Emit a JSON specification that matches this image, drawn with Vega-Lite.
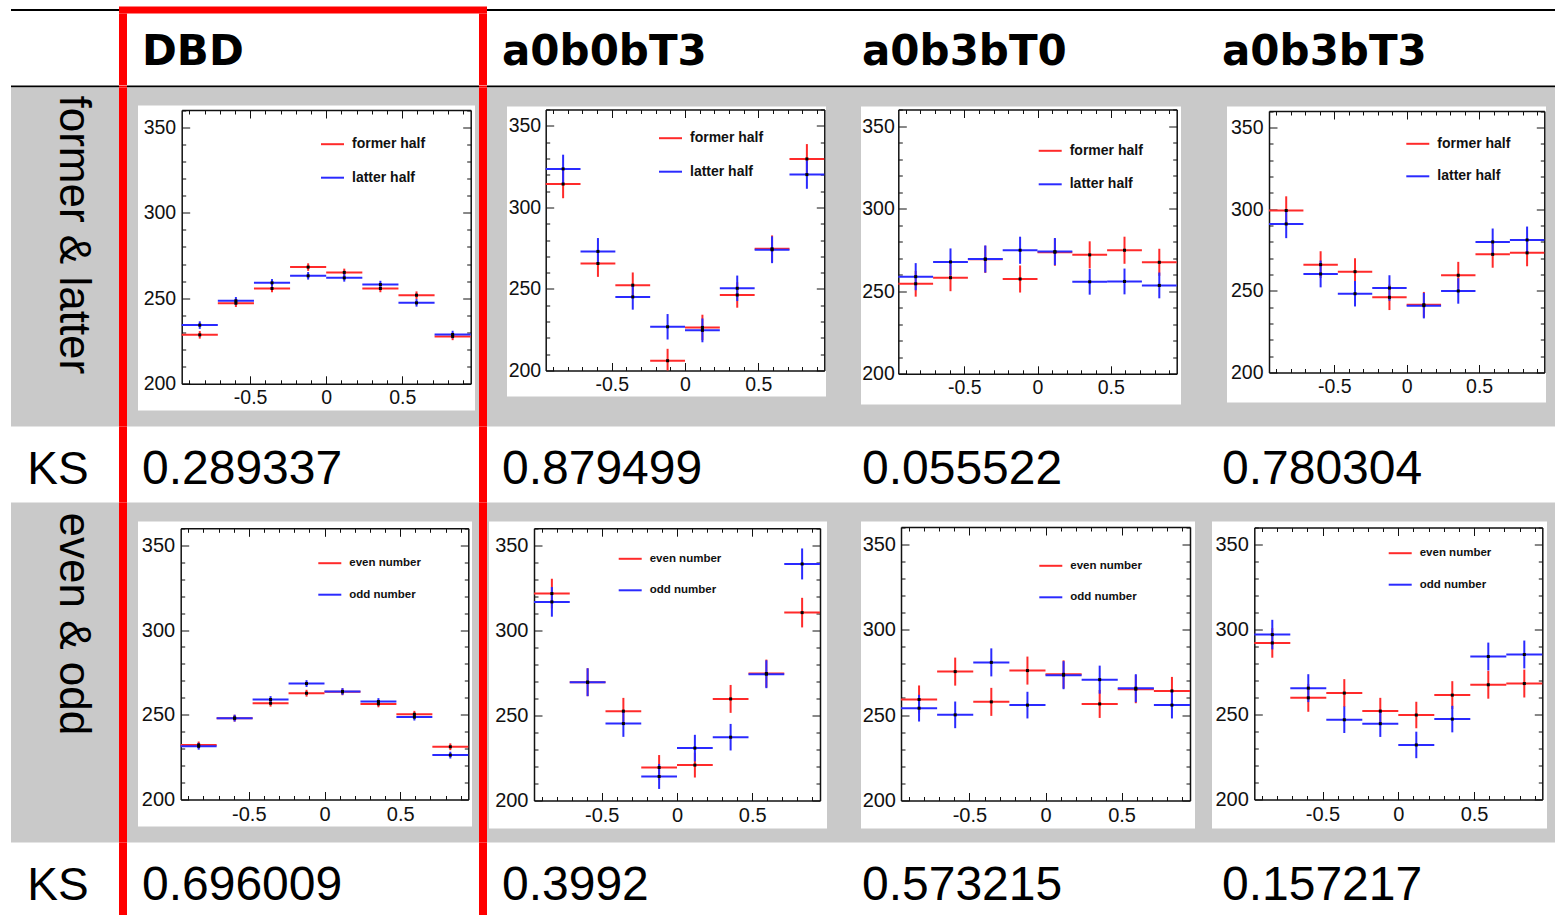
{
"$schema":"https://vega.github.io/schema/vega-lite/v6.json",
"background":"white",
"padding":{"left":11,"top":6.5,"right":0,"bottom":0},
"config":{
 "view":{"stroke":null},
 "concat":{"spacing":0},
 "axis":{"grid":false,"minExtent":0,"labelFont":"Liberation Sans","labelColor":"#111","domainColor":"#111","tickColor":"#111","domainWidth":1.5,"tickWidth":1,"labelFlush":false,"labelOverlap":false,"zindex":1},
 "legend":{"symbolType":"stroke","symbolSize":529,"symbolStrokeWidth":2,"symbolOpacity":1,"labelFont":"Liberation Sans","labelFontWeight":"bold","labelColor":"#111","labelOffset":7,"rowPadding":13.5,"padding":0}
},
"datasets":{
 "bins":[{"i":1,"x0":-0.95,"x1":-0.7125,"xc":-0.83125},{"i":2,"x0":-0.7125,"x1":-0.475,"xc":-0.59375},{"i":3,"x0":-0.475,"x1":-0.2375,"xc":-0.35625},{"i":4,"x0":-0.2375,"x1":0,"xc":-0.11875},{"i":5,"x0":0,"x1":0.2375,"xc":0.11875},{"i":6,"x0":0.2375,"x1":0.475,"xc":0.35625},{"i":7,"x0":0.475,"x1":0.7125,"xc":0.59375},{"i":8,"x0":0.7125,"x1":0.95,"xc":0.83125}],
 "p1":[{"s":"former half","i":1,"v":228.6,"lo":226.4,"hi":230.8},{"s":"former half","i":2,"v":247.1,"lo":244.9,"hi":249.3},{"s":"former half","i":3,"v":255.7,"lo":253.5,"hi":257.9},{"s":"former half","i":4,"v":268.2,"lo":266.0,"hi":270.4},{"s":"former half","i":5,"v":265.1,"lo":262.9,"hi":267.3},{"s":"former half","i":6,"v":255.7,"lo":253.5,"hi":257.9},{"s":"former half","i":7,"v":251.8,"lo":249.6,"hi":254.0},{"s":"former half","i":8,"v":227.7,"lo":225.5,"hi":229.9},
  {"s":"latter half","i":1,"v":234.3,"lo":232.1,"hi":236.5},{"s":"latter half","i":2,"v":248.5,"lo":246.3,"hi":250.7},{"s":"latter half","i":3,"v":259.0,"lo":256.8,"hi":261.2},{"s":"latter half","i":4,"v":263.1,"lo":260.9,"hi":265.3},{"s":"latter half","i":5,"v":261.9,"lo":259.7,"hi":264.1},{"s":"latter half","i":6,"v":258.0,"lo":255.8,"hi":260.2},{"s":"latter half","i":7,"v":247.3,"lo":245.1,"hi":249.5},{"s":"latter half","i":8,"v":228.8,"lo":226.6,"hi":231.0}],
 "p2":[{"s":"former half","i":1,"v":314.3,"lo":305.6,"hi":323.0},{"s":"former half","i":2,"v":265.6,"lo":257.4,"hi":273.8},{"s":"former half","i":3,"v":252.3,"lo":244.5,"hi":260.1},{"s":"former half","i":4,"v":206.0,"lo":200.0,"hi":213.3},{"s":"former half","i":5,"v":226.4,"lo":218.6,"hi":234.2},{"s":"former half","i":6,"v":246.3,"lo":238.5,"hi":254.1},{"s":"former half","i":7,"v":274.6,"lo":266.4,"hi":282.8},{"s":"former half","i":8,"v":329.7,"lo":320.6,"hi":338.8},
  {"s":"latter half","i":1,"v":323.6,"lo":314.9,"hi":332.3},{"s":"latter half","i":2,"v":273.0,"lo":264.8,"hi":281.2},{"s":"latter half","i":3,"v":245.1,"lo":237.3,"hi":252.9},{"s":"latter half","i":4,"v":226.8,"lo":219.0,"hi":234.6},{"s":"latter half","i":5,"v":224.6,"lo":217.3,"hi":231.9},{"s":"latter half","i":6,"v":250.4,"lo":242.6,"hi":258.2},{"s":"latter half","i":7,"v":274.0,"lo":265.8,"hi":282.2},{"s":"latter half","i":8,"v":320.1,"lo":311.4,"hi":328.8}],
 "p3":[{"s":"former half","i":1,"v":254.5,"lo":246.7,"hi":262.3},{"s":"former half","i":2,"v":258.2,"lo":250.0,"hi":266.4},{"s":"former half","i":3,"v":269.3,"lo":261.1,"hi":277.5},{"s":"former half","i":4,"v":257.4,"lo":249.2,"hi":265.6},{"s":"former half","i":5,"v":273.6,"lo":265.4,"hi":281.8},{"s":"former half","i":6,"v":272.0,"lo":263.8,"hi":280.2},{"s":"former half","i":7,"v":274.8,"lo":266.6,"hi":283.0},{"s":"former half","i":8,"v":267.5,"lo":259.3,"hi":275.7},
  {"s":"latter half","i":1,"v":258.8,"lo":250.6,"hi":267.0},{"s":"latter half","i":2,"v":267.7,"lo":259.5,"hi":275.9},{"s":"latter half","i":3,"v":269.5,"lo":261.3,"hi":277.7},{"s":"latter half","i":4,"v":274.8,"lo":266.6,"hi":283.0},{"s":"latter half","i":5,"v":274.0,"lo":265.8,"hi":282.2},{"s":"latter half","i":6,"v":255.7,"lo":247.9,"hi":263.5},{"s":"latter half","i":7,"v":255.9,"lo":248.1,"hi":263.7},{"s":"latter half","i":8,"v":253.5,"lo":245.7,"hi":261.3}],
 "p4":[{"s":"former half","i":1,"v":299.1,"lo":290.4,"hi":307.8},{"s":"former half","i":2,"v":266.0,"lo":257.8,"hi":274.2},{"s":"former half","i":3,"v":261.7,"lo":253.5,"hi":269.9},{"s":"former half","i":4,"v":246.0,"lo":238.2,"hi":253.8},{"s":"former half","i":5,"v":241.5,"lo":233.7,"hi":249.3},{"s":"former half","i":6,"v":259.5,"lo":251.3,"hi":267.7},{"s":"former half","i":7,"v":272.3,"lo":264.1,"hi":280.5},{"s":"former half","i":8,"v":273.2,"lo":265.0,"hi":281.4},
  {"s":"latter half","i":1,"v":290.9,"lo":282.2,"hi":299.6},{"s":"latter half","i":2,"v":260.3,"lo":252.1,"hi":268.5},{"s":"latter half","i":3,"v":248.2,"lo":240.4,"hi":256.0},{"s":"latter half","i":4,"v":251.7,"lo":243.9,"hi":259.5},{"s":"latter half","i":5,"v":240.9,"lo":233.1,"hi":248.7},{"s":"latter half","i":6,"v":249.9,"lo":242.1,"hi":257.7},{"s":"latter half","i":7,"v":279.9,"lo":271.7,"hi":288.1},{"s":"latter half","i":8,"v":281.1,"lo":272.9,"hi":289.3}],
 "p5":[{"s":"even number","i":1,"v":232.2,"lo":230.2,"hi":234.2},{"s":"even number","i":2,"v":248.0,"lo":246.0,"hi":250.0},{"s":"even number","i":3,"v":256.8,"lo":254.8,"hi":258.8},{"s":"even number","i":4,"v":262.7,"lo":260.7,"hi":264.7},{"s":"even number","i":5,"v":263.5,"lo":261.5,"hi":265.5},{"s":"even number","i":6,"v":256.4,"lo":254.4,"hi":258.4},{"s":"even number","i":7,"v":250.3,"lo":248.3,"hi":252.3},{"s":"even number","i":8,"v":231.1,"lo":229.1,"hi":233.1},
  {"s":"odd number","i":1,"v":231.4,"lo":229.4,"hi":233.4},{"s":"odd number","i":2,"v":248.0,"lo":246.0,"hi":250.0},{"s":"odd number","i":3,"v":259.0,"lo":257.0,"hi":261.0},{"s":"odd number","i":4,"v":268.4,"lo":266.4,"hi":270.4},{"s":"odd number","i":5,"v":263.7,"lo":261.7,"hi":265.7},{"s":"odd number","i":6,"v":257.8,"lo":255.8,"hi":259.8},{"s":"odd number","i":7,"v":248.6,"lo":246.6,"hi":250.6},{"s":"odd number","i":8,"v":226.2,"lo":224.2,"hi":228.2}],
 "p6":[{"s":"even number","i":1,"v":321.6,"lo":312.9,"hi":330.3},{"s":"even number","i":2,"v":269.5,"lo":261.3,"hi":277.7},{"s":"even number","i":3,"v":252.5,"lo":244.7,"hi":260.3},{"s":"even number","i":4,"v":219.4,"lo":212.1,"hi":226.7},{"s":"even number","i":5,"v":220.8,"lo":213.5,"hi":228.1},{"s":"even number","i":6,"v":259.7,"lo":251.5,"hi":267.9},{"s":"even number","i":7,"v":274.6,"lo":266.4,"hi":282.8},{"s":"even number","i":8,"v":310.4,"lo":301.7,"hi":319.1},
  {"s":"odd number","i":1,"v":316.7,"lo":308.0,"hi":325.4},{"s":"odd number","i":2,"v":269.5,"lo":261.3,"hi":277.7},{"s":"odd number","i":3,"v":245.2,"lo":237.4,"hi":253.0},{"s":"odd number","i":4,"v":214.1,"lo":206.8,"hi":221.4},{"s":"odd number","i":5,"v":230.8,"lo":223.0,"hi":238.6},{"s":"odd number","i":6,"v":237.2,"lo":229.4,"hi":245.0},{"s":"odd number","i":7,"v":274.2,"lo":266.0,"hi":282.4},{"s":"odd number","i":8,"v":339.0,"lo":329.9,"hi":348.1}],
 "p7":[{"s":"even number","i":1,"v":259.1,"lo":250.9,"hi":267.3},{"s":"even number","i":2,"v":275.4,"lo":267.2,"hi":283.6},{"s":"even number","i":3,"v":257.7,"lo":249.5,"hi":265.9},{"s":"even number","i":4,"v":276.0,"lo":267.8,"hi":284.2},{"s":"even number","i":5,"v":273.8,"lo":265.6,"hi":282.0},{"s":"even number","i":6,"v":256.5,"lo":248.3,"hi":264.7},{"s":"even number","i":7,"v":265.1,"lo":256.9,"hi":273.3},{"s":"even number","i":8,"v":264.1,"lo":255.9,"hi":272.3},
  {"s":"odd number","i":1,"v":254.0,"lo":246.2,"hi":261.8},{"s":"odd number","i":2,"v":250.1,"lo":242.3,"hi":257.9},{"s":"odd number","i":3,"v":280.8,"lo":272.6,"hi":289.0},{"s":"odd number","i":4,"v":255.8,"lo":248.0,"hi":263.6},{"s":"odd number","i":5,"v":273.3,"lo":265.1,"hi":281.5},{"s":"odd number","i":6,"v":270.7,"lo":262.5,"hi":278.9},{"s":"odd number","i":7,"v":265.7,"lo":257.5,"hi":273.9},{"s":"odd number","i":8,"v":255.8,"lo":248.0,"hi":263.6}],
 "p8":[{"s":"even number","i":1,"v":292.1,"lo":283.4,"hi":300.8},{"s":"even number","i":2,"v":259.8,"lo":251.6,"hi":268.0},{"s":"even number","i":3,"v":262.6,"lo":254.4,"hi":270.8},{"s":"even number","i":4,"v":252.0,"lo":244.2,"hi":259.8},{"s":"even number","i":5,"v":249.7,"lo":241.9,"hi":257.5},{"s":"even number","i":6,"v":261.4,"lo":253.2,"hi":269.6},{"s":"even number","i":7,"v":267.5,"lo":259.3,"hi":275.7},{"s":"even number","i":8,"v":268.2,"lo":260.0,"hi":276.4},
  {"s":"odd number","i":1,"v":297.0,"lo":288.3,"hi":305.7},{"s":"odd number","i":2,"v":265.5,"lo":257.3,"hi":273.7},{"s":"odd number","i":3,"v":246.9,"lo":239.1,"hi":254.7},{"s":"odd number","i":4,"v":244.6,"lo":236.8,"hi":252.4},{"s":"odd number","i":5,"v":232.1,"lo":224.3,"hi":239.9},{"s":"odd number","i":6,"v":247.3,"lo":239.5,"hi":255.1},{"s":"odd number","i":7,"v":284.1,"lo":275.9,"hi":292.3},{"s":"odd number","i":8,"v":285.3,"lo":277.1,"hi":293.5}]
},
"data":{"values":[{}]},
"spacing":0,
"bounds":"full",
"resolve":{"scale":{"color":"independent"}},
"vconcat":[
 {"hconcat":[
   {"width":108,"height":2,"mark":{"type":"rect","color":"#000"}},
   {"width":368,"height":7,"mark":{"type":"rect","color":"#ff0000"}},
   {"width":1068,"height":2,"mark":{"type":"rect","color":"#000"}}
  ],"spacing":0,"bounds":"flush","center":true},
 {"hconcat":[
   {"width":108,"height":71.5,"mark":{"type":"rect","color":"#ffffff"}},
   {"width":8,"height":71.5,"mark":{"type":"rect","color":"#ff0000"}},
   {"width":352,"height":71.5,"data":{"values":[{"col":"DBD"}]},
    "mark":{"type":"text","align":"left","baseline":"alphabetic","dx":15,"dy":15.75,"font":"DejaVu Sans","fontWeight":"bold","fontSize":42,"color":"#000"},
    "encoding":{"x":{"field":"col","type":"nominal","bandPosition":0,"axis":null,"scale":{"type":"band","domain":["DBD"],"range":[0,352],"paddingInner":0,"paddingOuter":0}},"text":{"field":"col"}}},
   {"width":8,"height":71.5,"mark":{"type":"rect","color":"#ff0000"}},
   {"width":1068,"height":71.5,"data":{"values":[{"col":"a0b0bT3"},{"col":"a0b3bT0"},{"col":"a0b3bT3"}]},
    "mark":{"type":"text","align":"left","baseline":"alphabetic","dx":15,"dy":15.75,"font":"DejaVu Sans","fontWeight":"bold","fontSize":42,"color":"#000"},
    "encoding":{"x":{"field":"col","type":"nominal","bandPosition":0,"axis":null,"scale":{"type":"band","domain":["a0b0bT3","a0b3bT0","a0b3bT3"],"range":[0,1080],"paddingInner":0,"paddingOuter":0}},"text":{"field":"col"}}}
  ],"spacing":0,"bounds":"flush"},
 {"hconcat":[
   {"width":108,"height":2,"mark":{"type":"rect","color":"#000"}},
   {"width":8,"height":2,"mark":{"type":"rect","color":"#ff0000"}},
   {"width":352,"height":2,"mark":{"type":"rect","color":"#000"}},
   {"width":8,"height":2,"mark":{"type":"rect","color":"#ff0000"}},
   {"width":1068,"height":2,"mark":{"type":"rect","color":"#000"}}
  ],"spacing":0,"bounds":"flush"},
 {"hconcat":[
   {"width":108,"height":339,"layer":[
     {"mark":{"type":"rect","color":"#c9c9c9"}},
     {"data":{"values":[{"t":"former & latter"}]},
      "mark":{"type":"text","angle":90,"align":"left","baseline":"alphabetic","dx":-161.5,"dy":5,"font":"Liberation Sans","fontSize":44,"color":"#000"},
      "encoding":{"text":{"field":"t"}}}]},
   {"width":8,"height":339,"mark":{"type":"rect","color":"#ff0000"}},
   {"width":11,"height":339,"mark":{"type":"rect","color":"#c9c9c9"}},
   {"vconcat":[
     {"width":337,"height":18,"mark":{"type":"rect","color":"#c9c9c9"}},
     {"width":337,"height":305,"data":{"name":"p1"},
      "transform":[{"lookup":"i","from":{"data":{"name":"bins"},"key":"i","fields":["x0","x1","xc"]}}],
      "resolve":{"axis":{"x":"independent","y":"independent"}},
      "layer":[
       {"mark":{"type":"rule","strokeWidth":2},
        "encoding":{
         "x":{"field":"x0","type":"quantitative","scale":{"domain":[-0.95,0.95],"range":[43.7,332.7],"nice":false,"zero":false},
              "axis":{"orient":"bottom","offset":-26.7,"values":[-0.9,-0.8,-0.7,-0.6,-0.5,-0.4,-0.3,-0.2,-0.1,0,0.1,0.2,0.3,0.4,0.5,0.6,0.7,0.8,0.9],"tickSize":{"condition":{"test":"datum.value*2 == round(datum.value*2)","value":-8},"value":-4},"labelExpr":"datum.value*2 == round(datum.value*2) ? toString(datum.value) : ''","labelPadding":12.5,"labelFontSize":19.5,"title":null}},
         "x2":{"field":"x1"},
         "y":{"field":"v","type":"quantitative","scale":{"domain":[200,360],"range":[278.3,4.5],"nice":false,"zero":false},
              "axis":{"orient":"left","offset":-43.7,"values":[200,210,220,230,240,250,260,270,280,290,300,310,320,330,340,350,360],"tickSize":{"condition":{"test":"datum.value % 50 == 0","value":-8},"value":-4},"labelExpr":"datum.value % 50 == 0 ? toString(datum.value) : ''","labelPadding":14,"labelFontSize":19.5,"title":null}},
         "color":{"field":"s","type":"nominal","scale":{"domain":["former half","latter half"],"range":["#ff2a2a","#2a2aff"]},
              "legend":{"orient":"none","legendX":182,"legendY":26.2,"labelFontSize":14,"title":null,"direction":"vertical"}}}},
       {"mark":{"type":"rule","strokeWidth":2},
        "encoding":{
         "x":{"field":"xc","type":"quantitative","axis":{"orient":"top","offset":-4.5,"values":[-0.9,-0.8,-0.7,-0.6,-0.5,-0.4,-0.3,-0.2,-0.1,0,0.1,0.2,0.3,0.4,0.5,0.6,0.7,0.8,0.9],"tickSize":{"condition":{"test":"datum.value*2 == round(datum.value*2)","value":-8},"value":-4},"labels":false,"title":null}},
         "y":{"field":"lo","type":"quantitative","axis":{"orient":"right","offset":-4.3,"values":[200,210,220,230,240,250,260,270,280,290,300,310,320,330,340,350,360],"tickSize":{"condition":{"test":"datum.value % 50 == 0","value":-8},"value":-4},"labels":false,"title":null}},
         "y2":{"field":"hi"},
         "color":{"field":"s","type":"nominal","legend":null}}},
       {"mark":{"type":"square","size":9,"color":"#000","opacity":1},
        "encoding":{"x":{"field":"xc","type":"quantitative","axis":null},"y":{"field":"v","type":"quantitative","axis":null}}}
      ]},
     {"width":337,"height":16,"mark":{"type":"rect","color":"#c9c9c9"}}
    ],"spacing":0,"bounds":"flush","resolve":{"scale":{"color":"independent"}}},
   {"width":4,"height":339,"mark":{"type":"rect","color":"#c9c9c9"}},
   {"width":8,"height":339,"mark":{"type":"rect","color":"#ff0000"}},
   {"width":20,"height":339,"mark":{"type":"rect","color":"#c9c9c9"}},
   {"vconcat":[
     {"width":319,"height":19,"mark":{"type":"rect","color":"#c9c9c9"}},
     {"width":319,"height":290,"data":{"name":"p2"},
      "transform":[{"lookup":"i","from":{"data":{"name":"bins"},"key":"i","fields":["x0","x1","xc"]}}],
      "resolve":{"axis":{"x":"independent","y":"independent"}},
      "layer":[
       {"mark":{"type":"rule","strokeWidth":2},
        "encoding":{
         "x":{"field":"x0","type":"quantitative","scale":{"domain":[-0.95,0.95],"range":[38.7,317.3],"nice":false,"zero":false},
              "axis":{"orient":"bottom","offset":-26,"values":[-0.9,-0.8,-0.7,-0.6,-0.5,-0.4,-0.3,-0.2,-0.1,0,0.1,0.2,0.3,0.4,0.5,0.6,0.7,0.8,0.9],"tickSize":{"condition":{"test":"datum.value*2 == round(datum.value*2)","value":-8},"value":-4},"labelExpr":"datum.value*2 == round(datum.value*2) ? toString(datum.value) : ''","labelPadding":12.5,"labelFontSize":19.5,"title":null}},
         "x2":{"field":"x1"},
         "y":{"field":"v","type":"quantitative","scale":{"domain":[200,360],"range":[264,3],"nice":false,"zero":false},
              "axis":{"orient":"left","offset":-38.7,"values":[200,210,220,230,240,250,260,270,280,290,300,310,320,330,340,350,360],"tickSize":{"condition":{"test":"datum.value % 50 == 0","value":-8},"value":-4},"labelExpr":"datum.value % 50 == 0 ? toString(datum.value) : ''","labelPadding":13,"labelFontSize":19.5,"title":null}},
         "color":{"field":"s","type":"nominal","scale":{"domain":["former half","latter half"],"range":["#ff2a2a","#2a2aff"]},
              "legend":{"orient":"none","legendX":151,"legendY":19.2,"labelFontSize":14,"title":null,"direction":"vertical"}}}},
       {"mark":{"type":"rule","strokeWidth":2},
        "encoding":{
         "x":{"field":"xc","type":"quantitative","axis":{"orient":"top","offset":-3,"values":[-0.9,-0.8,-0.7,-0.6,-0.5,-0.4,-0.3,-0.2,-0.1,0,0.1,0.2,0.3,0.4,0.5,0.6,0.7,0.8,0.9],"tickSize":{"condition":{"test":"datum.value*2 == round(datum.value*2)","value":-8},"value":-4},"labels":false,"title":null}},
         "y":{"field":"lo","type":"quantitative","axis":{"orient":"right","offset":-1.7,"values":[200,210,220,230,240,250,260,270,280,290,300,310,320,330,340,350,360],"tickSize":{"condition":{"test":"datum.value % 50 == 0","value":-8},"value":-4},"labels":false,"title":null}},
         "y2":{"field":"hi"},
         "color":{"field":"s","type":"nominal","legend":null}}},
       {"mark":{"type":"square","size":9,"color":"#000","opacity":1},
        "encoding":{"x":{"field":"xc","type":"quantitative","axis":null},"y":{"field":"v","type":"quantitative","axis":null}}}
      ]},
     {"width":319,"height":30,"mark":{"type":"rect","color":"#c9c9c9"}}
    ],"spacing":0,"bounds":"flush","resolve":{"scale":{"color":"independent"}}},
   {"width":35,"height":339,"mark":{"type":"rect","color":"#c9c9c9"}},
   {"vconcat":[
     {"width":320,"height":19,"mark":{"type":"rect","color":"#c9c9c9"}},
     {"width":320,"height":298,"data":{"name":"p3"},
      "transform":[{"lookup":"i","from":{"data":{"name":"bins"},"key":"i","fields":["x0","x1","xc"]}}],
      "resolve":{"axis":{"x":"independent","y":"independent"}},
      "layer":[
       {"mark":{"type":"rule","strokeWidth":2},
        "encoding":{
         "x":{"field":"x0","type":"quantitative","scale":{"domain":[-0.95,0.95],"range":[37.3,315.7],"nice":false,"zero":false},
              "axis":{"orient":"bottom","offset":-30.7,"values":[-0.9,-0.8,-0.7,-0.6,-0.5,-0.4,-0.3,-0.2,-0.1,0,0.1,0.2,0.3,0.4,0.5,0.6,0.7,0.8,0.9],"tickSize":{"condition":{"test":"datum.value*2 == round(datum.value*2)","value":-8},"value":-4},"labelExpr":"datum.value*2 == round(datum.value*2) ? toString(datum.value) : ''","labelPadding":12.5,"labelFontSize":19.5,"title":null}},
         "x2":{"field":"x1"},
         "y":{"field":"v","type":"quantitative","scale":{"domain":[200,360],"range":[267.3,3],"nice":false,"zero":false},
              "axis":{"orient":"left","offset":-37.3,"values":[200,210,220,230,240,250,260,270,280,290,300,310,320,330,340,350,360],"tickSize":{"condition":{"test":"datum.value % 50 == 0","value":-8},"value":-4},"labelExpr":"datum.value % 50 == 0 ? toString(datum.value) : ''","labelPadding":12,"labelFontSize":19.5,"title":null}},
         "color":{"field":"s","type":"nominal","scale":{"domain":["former half","latter half"],"range":["#ff2a2a","#2a2aff"]},
              "legend":{"orient":"none","legendX":176.7,"legendY":31.8,"labelFontSize":14,"title":null,"direction":"vertical"}}}},
       {"mark":{"type":"rule","strokeWidth":2},
        "encoding":{
         "x":{"field":"xc","type":"quantitative","axis":{"orient":"top","offset":-3,"values":[-0.9,-0.8,-0.7,-0.6,-0.5,-0.4,-0.3,-0.2,-0.1,0,0.1,0.2,0.3,0.4,0.5,0.6,0.7,0.8,0.9],"tickSize":{"condition":{"test":"datum.value*2 == round(datum.value*2)","value":-8},"value":-4},"labels":false,"title":null}},
         "y":{"field":"lo","type":"quantitative","axis":{"orient":"right","offset":-4.3,"values":[200,210,220,230,240,250,260,270,280,290,300,310,320,330,340,350,360],"tickSize":{"condition":{"test":"datum.value % 50 == 0","value":-8},"value":-4},"labels":false,"title":null}},
         "y2":{"field":"hi"},
         "color":{"field":"s","type":"nominal","legend":null}}},
       {"mark":{"type":"square","size":9,"color":"#000","opacity":1},
        "encoding":{"x":{"field":"xc","type":"quantitative","axis":null},"y":{"field":"v","type":"quantitative","axis":null}}}
      ]},
     {"width":320,"height":22,"mark":{"type":"rect","color":"#c9c9c9"}}
    ],"spacing":0,"bounds":"flush","resolve":{"scale":{"color":"independent"}}},
   {"width":46,"height":339,"mark":{"type":"rect","color":"#c9c9c9"}},
   {"vconcat":[
     {"width":319,"height":19,"mark":{"type":"rect","color":"#c9c9c9"}},
     {"width":319,"height":296,"data":{"name":"p4"},
      "transform":[{"lookup":"i","from":{"data":{"name":"bins"},"key":"i","fields":["x0","x1","xc"]}}],
      "resolve":{"axis":{"x":"independent","y":"independent"}},
      "layer":[
       {"mark":{"type":"rule","strokeWidth":2},
        "encoding":{
         "x":{"field":"x0","type":"quantitative","scale":{"domain":[-0.95,0.95],"range":[42,317.3],"nice":false,"zero":false},
              "axis":{"orient":"bottom","offset":-30,"values":[-0.9,-0.8,-0.7,-0.6,-0.5,-0.4,-0.3,-0.2,-0.1,0,0.1,0.2,0.3,0.4,0.5,0.6,0.7,0.8,0.9],"tickSize":{"condition":{"test":"datum.value*2 == round(datum.value*2)","value":-8},"value":-4},"labelExpr":"datum.value*2 == round(datum.value*2) ? toString(datum.value) : ''","labelPadding":12.5,"labelFontSize":19.5,"title":null}},
         "x2":{"field":"x1"},
         "y":{"field":"v","type":"quantitative","scale":{"domain":[200,360],"range":[266,4.5],"nice":false,"zero":false},
              "axis":{"orient":"left","offset":-42,"values":[200,210,220,230,240,250,260,270,280,290,300,310,320,330,340,350,360],"tickSize":{"condition":{"test":"datum.value % 50 == 0","value":-8},"value":-4},"labelExpr":"datum.value % 50 == 0 ? toString(datum.value) : ''","labelPadding":14,"labelFontSize":19.5,"title":null}},
         "color":{"field":"s","type":"nominal","scale":{"domain":["former half","latter half"],"range":["#ff2a2a","#2a2aff"]},
              "legend":{"orient":"none","legendX":178.3,"legendY":24.8,"labelFontSize":14,"rowPadding":12.5,"title":null,"direction":"vertical"}}}},
       {"mark":{"type":"rule","strokeWidth":2},
        "encoding":{
         "x":{"field":"xc","type":"quantitative","axis":{"orient":"top","offset":-4.5,"values":[-0.9,-0.8,-0.7,-0.6,-0.5,-0.4,-0.3,-0.2,-0.1,0,0.1,0.2,0.3,0.4,0.5,0.6,0.7,0.8,0.9],"tickSize":{"condition":{"test":"datum.value*2 == round(datum.value*2)","value":-8},"value":-4},"labels":false,"title":null}},
         "y":{"field":"lo","type":"quantitative","axis":{"orient":"right","offset":-1.7,"values":[200,210,220,230,240,250,260,270,280,290,300,310,320,330,340,350,360],"tickSize":{"condition":{"test":"datum.value % 50 == 0","value":-8},"value":-4},"labels":false,"title":null}},
         "y2":{"field":"hi"},
         "color":{"field":"s","type":"nominal","legend":null}}},
       {"mark":{"type":"square","size":9,"color":"#000","opacity":1},
        "encoding":{"x":{"field":"xc","type":"quantitative","axis":null},"y":{"field":"v","type":"quantitative","axis":null}}}
      ]},
     {"width":319,"height":24,"mark":{"type":"rect","color":"#c9c9c9"}}
    ],"spacing":0,"bounds":"flush","resolve":{"scale":{"color":"independent"}}},
   {"width":9,"height":339,"mark":{"type":"rect","color":"#c9c9c9"}}
  ],"spacing":0,"bounds":"full","resolve":{"scale":{"color":"independent"}}},
 {"hconcat":[
   {"width":108,"height":76,"data":{"values":[{"t":"KS"}]},
    "mark":{"type":"text","align":"center","baseline":"alphabetic","dx":-7,"dy":19.3,"font":"Liberation Sans","fontSize":46,"color":"#000"},
    "encoding":{"text":{"field":"t"}}},
   {"width":8,"height":76,"mark":{"type":"rect","color":"#ff0000"}},
   {"width":352,"height":76,"data":{"values":[{"col":"DBD","t":"0.289337"}]},
    "mark":{"type":"text","align":"left","baseline":"alphabetic","dx":15,"dy":19.3,"font":"Liberation Sans","fontSize":48,"color":"#000"},
    "encoding":{"x":{"field":"col","type":"nominal","bandPosition":0,"axis":null,"scale":{"type":"band","domain":["DBD"],"range":[0,352],"paddingInner":0,"paddingOuter":0}},"text":{"field":"t"}}},
   {"width":8,"height":76,"mark":{"type":"rect","color":"#ff0000"}},
   {"width":1068,"height":76,"data":{"values":[{"col":"a0b0bT3","t":"0.879499"},{"col":"a0b3bT0","t":"0.055522"},{"col":"a0b3bT3","t":"0.780304"}]},
    "mark":{"type":"text","align":"left","baseline":"alphabetic","dx":15,"dy":19.3,"font":"Liberation Sans","fontSize":48,"color":"#000"},
    "encoding":{"x":{"field":"col","type":"nominal","bandPosition":0,"axis":null,"scale":{"type":"band","domain":["a0b0bT3","a0b3bT0","a0b3bT3"],"range":[0,1080],"paddingInner":0,"paddingOuter":0}},"text":{"field":"t"}}}
  ],"spacing":0,"bounds":"flush"},
 {"hconcat":[
   {"width":108,"height":340,"layer":[
     {"mark":{"type":"rect","color":"#c9c9c9"}},
     {"data":{"values":[{"t":"even & odd"}]},
      "mark":{"type":"text","angle":90,"align":"left","baseline":"alphabetic","dx":-160,"dy":5,"font":"Liberation Sans","fontSize":44,"color":"#000"},
      "encoding":{"text":{"field":"t"}}}]},
   {"width":8,"height":340,"mark":{"type":"rect","color":"#ff0000"}},
   {"width":11,"height":340,"mark":{"type":"rect","color":"#c9c9c9"}},
   {"vconcat":[
     {"width":334,"height":19,"mark":{"type":"rect","color":"#c9c9c9"}},
     {"width":334,"height":305,"data":{"name":"p5"},
      "transform":[{"lookup":"i","from":{"data":{"name":"bins"},"key":"i","fields":["x0","x1","xc"]}}],
      "resolve":{"axis":{"x":"independent","y":"independent"}},
      "layer":[
       {"mark":{"type":"rule","strokeWidth":2},
        "encoding":{
         "x":{"field":"x0","type":"quantitative","scale":{"domain":[-0.95,0.95],"range":[42.7,330.3],"nice":false,"zero":false},
              "axis":{"orient":"bottom","offset":-27,"values":[-0.9,-0.8,-0.7,-0.6,-0.5,-0.4,-0.3,-0.2,-0.1,0,0.1,0.2,0.3,0.4,0.5,0.6,0.7,0.8,0.9],"tickSize":{"condition":{"test":"datum.value*2 == round(datum.value*2)","value":-8},"value":-4},"labelExpr":"datum.value*2 == round(datum.value*2) ? toString(datum.value) : ''","labelPadding":12.5,"labelFontSize":20,"title":null}},
         "x2":{"field":"x1"},
         "y":{"field":"v","type":"quantitative","scale":{"domain":[200,360],"range":[278,6.8],"nice":false,"zero":false},
              "axis":{"orient":"left","offset":-42.7,"values":[200,210,220,230,240,250,260,270,280,290,300,310,320,330,340,350,360],"tickSize":{"condition":{"test":"datum.value % 50 == 0","value":-8},"value":-4},"labelExpr":"datum.value % 50 == 0 ? toString(datum.value) : ''","labelPadding":14,"labelFontSize":20,"title":null}},
         "color":{"field":"s","type":"nominal","scale":{"domain":["even number","odd number"],"range":["#ff2a2a","#2a2aff"]},
              "legend":{"orient":"none","legendX":179.3,"legendY":29.2,"labelFontSize":11.5,"title":null,"direction":"vertical"}}}},
       {"mark":{"type":"rule","strokeWidth":2},
        "encoding":{
         "x":{"field":"xc","type":"quantitative","axis":{"orient":"top","offset":-6.8,"values":[-0.9,-0.8,-0.7,-0.6,-0.5,-0.4,-0.3,-0.2,-0.1,0,0.1,0.2,0.3,0.4,0.5,0.6,0.7,0.8,0.9],"tickSize":{"condition":{"test":"datum.value*2 == round(datum.value*2)","value":-8},"value":-4},"labels":false,"title":null}},
         "y":{"field":"lo","type":"quantitative","axis":{"orient":"right","offset":-3.7,"values":[200,210,220,230,240,250,260,270,280,290,300,310,320,330,340,350,360],"tickSize":{"condition":{"test":"datum.value % 50 == 0","value":-8},"value":-4},"labels":false,"title":null}},
         "y2":{"field":"hi"},
         "color":{"field":"s","type":"nominal","legend":null}}},
       {"mark":{"type":"square","size":9,"color":"#000","opacity":1},
        "encoding":{"x":{"field":"xc","type":"quantitative","axis":null},"y":{"field":"v","type":"quantitative","axis":null}}}
      ]},
     {"width":334,"height":16,"mark":{"type":"rect","color":"#c9c9c9"}}
    ],"spacing":0,"bounds":"flush","resolve":{"scale":{"color":"independent"}}},
   {"width":7,"height":340,"mark":{"type":"rect","color":"#c9c9c9"}},
   {"width":8,"height":340,"mark":{"type":"rect","color":"#ff0000"}},
   {"width":2,"height":340,"mark":{"type":"rect","color":"#c9c9c9"}},
   {"vconcat":[
     {"width":338,"height":19,"mark":{"type":"rect","color":"#c9c9c9"}},
     {"width":338,"height":307,"data":{"name":"p6"},
      "transform":[{"lookup":"i","from":{"data":{"name":"bins"},"key":"i","fields":["x0","x1","xc"]}}],
      "resolve":{"axis":{"x":"independent","y":"independent"}},
      "layer":[
       {"mark":{"type":"rule","strokeWidth":2},
        "encoding":{
         "x":{"field":"x0","type":"quantitative","scale":{"domain":[-0.95,0.95],"range":[45,331],"nice":false,"zero":false},
              "axis":{"orient":"bottom","offset":-28,"values":[-0.9,-0.8,-0.7,-0.6,-0.5,-0.4,-0.3,-0.2,-0.1,0,0.1,0.2,0.3,0.4,0.5,0.6,0.7,0.8,0.9],"tickSize":{"condition":{"test":"datum.value*2 == round(datum.value*2)","value":-8},"value":-4},"labelExpr":"datum.value*2 == round(datum.value*2) ? toString(datum.value) : ''","labelPadding":12.5,"labelFontSize":20,"title":null}},
         "x2":{"field":"x1"},
         "y":{"field":"v","type":"quantitative","scale":{"domain":[200,360],"range":[279,6.7],"nice":false,"zero":false},
              "axis":{"orient":"left","offset":-45,"values":[200,210,220,230,240,250,260,270,280,290,300,310,320,330,340,350,360],"tickSize":{"condition":{"test":"datum.value % 50 == 0","value":-8},"value":-4},"labelExpr":"datum.value % 50 == 0 ? toString(datum.value) : ''","labelPadding":14,"labelFontSize":20,"title":null}},
         "color":{"field":"s","type":"nominal","scale":{"domain":["even number","odd number"],"range":["#ff2a2a","#2a2aff"]},
              "legend":{"orient":"none","legendX":128.7,"legendY":24.8,"labelFontSize":11.5,"title":null,"direction":"vertical"}}}},
       {"mark":{"type":"rule","strokeWidth":2},
        "encoding":{
         "x":{"field":"xc","type":"quantitative","axis":{"orient":"top","offset":-6.7,"values":[-0.9,-0.8,-0.7,-0.6,-0.5,-0.4,-0.3,-0.2,-0.1,0,0.1,0.2,0.3,0.4,0.5,0.6,0.7,0.8,0.9],"tickSize":{"condition":{"test":"datum.value*2 == round(datum.value*2)","value":-8},"value":-4},"labels":false,"title":null}},
         "y":{"field":"lo","type":"quantitative","axis":{"orient":"right","offset":-7,"values":[200,210,220,230,240,250,260,270,280,290,300,310,320,330,340,350,360],"tickSize":{"condition":{"test":"datum.value % 50 == 0","value":-8},"value":-4},"labels":false,"title":null}},
         "y2":{"field":"hi"},
         "color":{"field":"s","type":"nominal","legend":null}}},
       {"mark":{"type":"square","size":9,"color":"#000","opacity":1},
        "encoding":{"x":{"field":"xc","type":"quantitative","axis":null},"y":{"field":"v","type":"quantitative","axis":null}}}
      ]},
     {"width":338,"height":14,"mark":{"type":"rect","color":"#c9c9c9"}}
    ],"spacing":0,"bounds":"flush","resolve":{"scale":{"color":"independent"}}},
   {"width":34,"height":340,"mark":{"type":"rect","color":"#c9c9c9"}},
   {"vconcat":[
     {"width":334,"height":19,"mark":{"type":"rect","color":"#c9c9c9"}},
     {"width":334,"height":307,"data":{"name":"p7"},
      "transform":[{"lookup":"i","from":{"data":{"name":"bins"},"key":"i","fields":["x0","x1","xc"]}}],
      "resolve":{"axis":{"x":"independent","y":"independent"}},
      "layer":[
       {"mark":{"type":"rule","strokeWidth":2},
        "encoding":{
         "x":{"field":"x0","type":"quantitative","scale":{"domain":[-0.95,0.95],"range":[40,329],"nice":false,"zero":false},
              "axis":{"orient":"bottom","offset":-28,"values":[-0.9,-0.8,-0.7,-0.6,-0.5,-0.4,-0.3,-0.2,-0.1,0,0.1,0.2,0.3,0.4,0.5,0.6,0.7,0.8,0.9],"tickSize":{"condition":{"test":"datum.value*2 == round(datum.value*2)","value":-8},"value":-4},"labelExpr":"datum.value*2 == round(datum.value*2) ? toString(datum.value) : ''","labelPadding":12.5,"labelFontSize":20,"title":null}},
         "x2":{"field":"x1"},
         "y":{"field":"v","type":"quantitative","scale":{"domain":[200,360],"range":[279,5.5],"nice":false,"zero":false},
              "axis":{"orient":"left","offset":-40,"values":[200,210,220,230,240,250,260,270,280,290,300,310,320,330,340,350,360],"tickSize":{"condition":{"test":"datum.value % 50 == 0","value":-8},"value":-4},"labelExpr":"datum.value % 50 == 0 ? toString(datum.value) : ''","labelPadding":13.5,"labelFontSize":20,"title":null}},
         "color":{"field":"s","type":"nominal","scale":{"domain":["even number","odd number"],"range":["#ff2a2a","#2a2aff"]},
              "legend":{"orient":"none","legendX":177.3,"legendY":31.8,"labelFontSize":11.5,"title":null,"direction":"vertical"}}}},
       {"mark":{"type":"rule","strokeWidth":2},
        "encoding":{
         "x":{"field":"xc","type":"quantitative","axis":{"orient":"top","offset":-5.5,"values":[-0.9,-0.8,-0.7,-0.6,-0.5,-0.4,-0.3,-0.2,-0.1,0,0.1,0.2,0.3,0.4,0.5,0.6,0.7,0.8,0.9],"tickSize":{"condition":{"test":"datum.value*2 == round(datum.value*2)","value":-8},"value":-4},"labels":false,"title":null}},
         "y":{"field":"lo","type":"quantitative","axis":{"orient":"right","offset":-5,"values":[200,210,220,230,240,250,260,270,280,290,300,310,320,330,340,350,360],"tickSize":{"condition":{"test":"datum.value % 50 == 0","value":-8},"value":-4},"labels":false,"title":null}},
         "y2":{"field":"hi"},
         "color":{"field":"s","type":"nominal","legend":null}}},
       {"mark":{"type":"square","size":9,"color":"#000","opacity":1},
        "encoding":{"x":{"field":"xc","type":"quantitative","axis":null},"y":{"field":"v","type":"quantitative","axis":null}}}
      ]},
     {"width":334,"height":14,"mark":{"type":"rect","color":"#c9c9c9"}}
    ],"spacing":0,"bounds":"flush","resolve":{"scale":{"color":"independent"}}},
   {"width":17,"height":340,"mark":{"type":"rect","color":"#c9c9c9"}},
   {"vconcat":[
     {"width":335,"height":19,"mark":{"type":"rect","color":"#c9c9c9"}},
     {"width":335,"height":307,"data":{"name":"p8"},
      "transform":[{"lookup":"i","from":{"data":{"name":"bins"},"key":"i","fields":["x0","x1","xc"]}}],
      "resolve":{"axis":{"x":"independent","y":"independent"}},
      "layer":[
       {"mark":{"type":"rule","strokeWidth":2},
        "encoding":{
         "x":{"field":"x0","type":"quantitative","scale":{"domain":[-0.95,0.95],"range":[42.3,330.3],"nice":false,"zero":false},
              "axis":{"orient":"bottom","offset":-29,"values":[-0.9,-0.8,-0.7,-0.6,-0.5,-0.4,-0.3,-0.2,-0.1,0,0.1,0.2,0.3,0.4,0.5,0.6,0.7,0.8,0.9],"tickSize":{"condition":{"test":"datum.value*2 == round(datum.value*2)","value":-8},"value":-4},"labelExpr":"datum.value*2 == round(datum.value*2) ? toString(datum.value) : ''","labelPadding":12.5,"labelFontSize":20,"title":null}},
         "x2":{"field":"x1"},
         "y":{"field":"v","type":"quantitative","scale":{"domain":[200,360],"range":[278,6],"nice":false,"zero":false},
              "axis":{"orient":"left","offset":-42.3,"values":[200,210,220,230,240,250,260,270,280,290,300,310,320,330,340,350,360],"tickSize":{"condition":{"test":"datum.value % 50 == 0","value":-8},"value":-4},"labelExpr":"datum.value % 50 == 0 ? toString(datum.value) : ''","labelPadding":14,"labelFontSize":20,"title":null}},
         "color":{"field":"s","type":"nominal","scale":{"domain":["even number","odd number"],"range":["#ff2a2a","#2a2aff"]},
              "legend":{"orient":"none","legendX":175.7,"legendY":19.2,"labelFontSize":11.5,"title":null,"direction":"vertical"}}}},
       {"mark":{"type":"rule","strokeWidth":2},
        "encoding":{
         "x":{"field":"xc","type":"quantitative","axis":{"orient":"top","offset":-6,"values":[-0.9,-0.8,-0.7,-0.6,-0.5,-0.4,-0.3,-0.2,-0.1,0,0.1,0.2,0.3,0.4,0.5,0.6,0.7,0.8,0.9],"tickSize":{"condition":{"test":"datum.value*2 == round(datum.value*2)","value":-8},"value":-4},"labels":false,"title":null}},
         "y":{"field":"lo","type":"quantitative","axis":{"orient":"right","offset":-4.7,"values":[200,210,220,230,240,250,260,270,280,290,300,310,320,330,340,350,360],"tickSize":{"condition":{"test":"datum.value % 50 == 0","value":-8},"value":-4},"labels":false,"title":null}},
         "y2":{"field":"hi"},
         "color":{"field":"s","type":"nominal","legend":null}}},
       {"mark":{"type":"square","size":9,"color":"#000","opacity":1},
        "encoding":{"x":{"field":"xc","type":"quantitative","axis":null},"y":{"field":"v","type":"quantitative","axis":null}}}
      ]},
     {"width":335,"height":14,"mark":{"type":"rect","color":"#c9c9c9"}}
    ],"spacing":0,"bounds":"flush","resolve":{"scale":{"color":"independent"}}},
   {"width":8,"height":340,"mark":{"type":"rect","color":"#c9c9c9"}}
  ],"spacing":0,"bounds":"full","resolve":{"scale":{"color":"independent"}}},
 {"hconcat":[
   {"width":108,"height":73,"data":{"values":[{"t":"KS"}]},
    "mark":{"type":"text","align":"center","baseline":"alphabetic","dx":-7,"dy":20.8,"font":"Liberation Sans","fontSize":46,"color":"#000"},
    "encoding":{"text":{"field":"t"}}},
   {"width":8,"height":73,"mark":{"type":"rect","color":"#ff0000"}},
   {"width":352,"height":73,"data":{"values":[{"col":"DBD","t":"0.696009"}]},
    "mark":{"type":"text","align":"left","baseline":"alphabetic","dx":15,"dy":20.8,"font":"Liberation Sans","fontSize":48,"color":"#000"},
    "encoding":{"x":{"field":"col","type":"nominal","bandPosition":0,"axis":null,"scale":{"type":"band","domain":["DBD"],"range":[0,352],"paddingInner":0,"paddingOuter":0}},"text":{"field":"t"}}},
   {"width":8,"height":73,"mark":{"type":"rect","color":"#ff0000"}},
   {"width":1068,"height":73,"data":{"values":[{"col":"a0b0bT3","t":"0.3992"},{"col":"a0b3bT0","t":"0.573215"},{"col":"a0b3bT3","t":"0.157217"}]},
    "mark":{"type":"text","align":"left","baseline":"alphabetic","dx":15,"dy":20.8,"font":"Liberation Sans","fontSize":48,"color":"#000"},
    "encoding":{"x":{"field":"col","type":"nominal","bandPosition":0,"axis":null,"scale":{"type":"band","domain":["a0b0bT3","a0b3bT0","a0b3bT3"],"range":[0,1080],"paddingInner":0,"paddingOuter":0}},"text":{"field":"t"}}}
  ],"spacing":0,"bounds":"flush"}
]
}
